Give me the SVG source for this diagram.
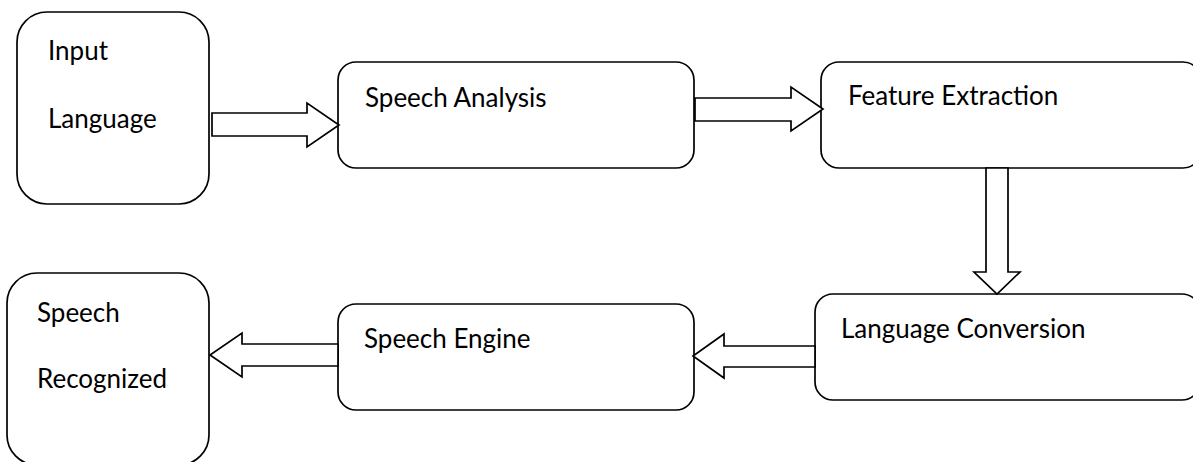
<svg xmlns="http://www.w3.org/2000/svg" width="1193" height="462" viewBox="0 0 1193 462">
<style>
.box{fill:#fff;stroke:#000;stroke-width:1.7}
.arr{fill:#fff;stroke:#000;stroke-width:1.7;stroke-linejoin:miter}
.t{font-family:Lato,"Liberation Sans",sans-serif;font-size:26px;fill:#000}
</style>
<rect width="1193" height="462" fill="#fff"/>
<g id="input-language">
<rect class="box" x="17" y="12" width="192" height="192" rx="30" ry="30"/>
<text class="t" x="48" y="60">Input</text>
<text class="t" x="48" y="128">Language</text>
</g>
<g id="speech-analysis">
<rect class="box" x="338" y="62" width="356" height="106" rx="18" ry="18"/>
<text class="t" x="365" y="107">Speech Analysis</text>
</g>
<g id="feature-extraction">
<rect class="box" x="821" y="62" width="380" height="106" rx="18" ry="18"/>
<text class="t" x="848" y="105">Feature Extraction</text>
</g>
<g id="language-conversion">
<rect class="box" x="815" y="294" width="385" height="106" rx="18" ry="18"/>
<text class="t" x="841" y="338">Language Conversion</text>
</g>
<g id="speech-engine">
<rect class="box" x="338" y="304" width="356" height="106" rx="18" ry="18"/>
<text class="t" x="364" y="348">Speech Engine</text>
</g>
<g id="speech-recognized">
<rect class="box" x="7" y="273" width="202" height="192" rx="30" ry="30"/>
<text class="t" x="37" y="322">Speech</text>
<text class="t" x="37" y="388">Recognized</text>
</g>
<g id="connectors">
<polygon class="arr" points="212,113 307,113 307,103 339,125 307,147 307,136 212,136"/>
<polygon class="arr" points="695,98 791,98 791,87 823,109 791,131 791,121 695,121"/>
<polygon class="arr" points="986,168 1008,168 1008,272 1020,272 997,294 974,272 986,272"/>
<polygon class="arr" points="815,346 724,346 724,334 693,356 724,378 724,367 815,367"/>
<polygon class="arr" points="338,344 242,344 242,333 210,355 242,377 242,366 338,366"/>
</g>
</svg>
